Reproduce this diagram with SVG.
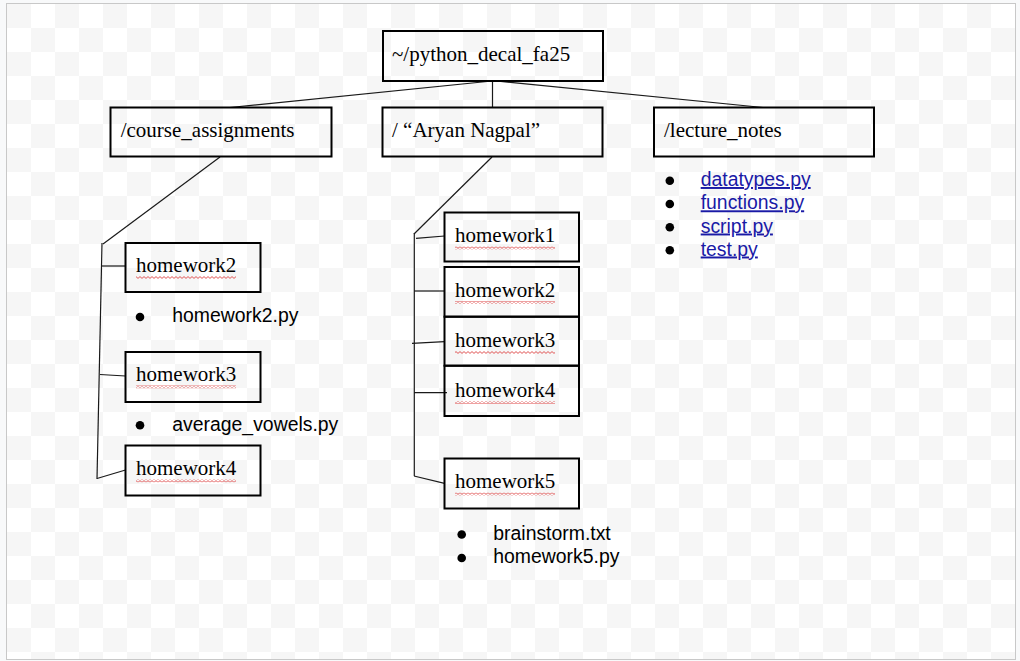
<svg xmlns="http://www.w3.org/2000/svg" width="1020" height="661" viewBox="0 0 1020 661">
<style>
.box{fill:none;stroke:#000;stroke-width:2}
.lbl{font-family:"Liberation Serif","Times New Roman",serif;font-size:21px;fill:#000}
.item{font-family:"Liberation Sans",Arial,sans-serif;font-size:19.4px;fill:#000}
.link{font-family:"Liberation Sans",Arial,sans-serif;font-size:19.4px;fill:#1a1aa6;text-decoration:underline}
.con line{stroke:#1a1a1a;stroke-width:1.2;fill:none}
.bul{fill:#000}
.sq{fill:url(#squig)}
</style>
<defs>
<pattern id="checker" patternUnits="userSpaceOnUse" x="7" y="4" width="48" height="48">
<rect x="0" y="0" width="48" height="48" fill="#ffffff"/>
<rect x="0" y="0" width="24" height="24" fill="#f6f6f6"/>
<rect x="24" y="24" width="24" height="24" fill="#f6f6f6"/>
</pattern>
<pattern id="squig" patternUnits="userSpaceOnUse" x="0" y="0" width="4" height="3">
<path d="M0,0.6 L2,2.4 L4,0.6" fill="none" stroke="#e05555" stroke-width="1"/>
</pattern>
</defs>
<rect x="0" y="0" width="1020" height="661" fill="#f8f9fa"/>
<rect x="6.5" y="3.5" width="1009" height="656" fill="url(#checker)" stroke="#c8c8c8" stroke-width="1"/>

<g id="connectors" class="con">
<line x1="492" y1="81" x2="230" y2="107.5"/>
<line x1="492.5" y1="81" x2="492.5" y2="107.5"/>
<line x1="496" y1="81" x2="763" y2="107.5"/>
<line x1="220" y1="157" x2="103" y2="244"/>
<line x1="102" y1="243" x2="97" y2="479"/>
<line x1="101" y1="266" x2="125.5" y2="266"/>
<line x1="100" y1="374.5" x2="125.5" y2="376"/>
<line x1="97" y1="478.5" x2="125.5" y2="470"/>
<line x1="492" y1="157" x2="414" y2="234"/>
<line x1="414.3" y1="233" x2="414.3" y2="476"/>
<line x1="416" y1="238.3" x2="444.5" y2="236"/>
<line x1="414" y1="291" x2="444.5" y2="291"/>
<line x1="412" y1="343.3" x2="444.5" y2="341.7"/>
<line x1="414" y1="392.7" x2="447" y2="392.7"/>
<line x1="414" y1="476" x2="444.5" y2="483.3"/>
</g>

<g id="root">
<rect class="box" x="383" y="31" width="220" height="50"/>
<text class="lbl" x="392" y="60.7">~/python_decal_fa25</text>
</g>

<g id="course_assignments">
<rect class="box" x="110.5" y="107.5" width="221" height="49"/>
<text class="lbl" x="120.7" y="136.7">/course_assignments</text>
</g>

<g id="aryan_nagpal">
<rect class="box" x="382.5" y="107.5" width="220" height="49"/>
<text class="lbl" x="392" y="136.7">/ “Aryan Nagpal”</text>
</g>

<g id="lecture_notes">
<rect class="box" x="654" y="107.5" width="220" height="49"/>
<text class="lbl" x="664" y="136.7">/lecture_notes</text>
<circle class="bul" cx="669.8" cy="180.7" r="4.3"/>
<text class="link" x="700.7" y="186">datatypes.py</text>
<circle class="bul" cx="669.8" cy="204" r="4.3"/>
<text class="link" x="700.7" y="209.3">functions.py</text>
<circle class="bul" cx="669.8" cy="227.2" r="4.3"/>
<text class="link" x="700.7" y="232.5">script.py</text>
<circle class="bul" cx="669.8" cy="250.2" r="4.3"/>
<text class="link" x="700.7" y="255.5">test.py</text>
</g>

<g id="ca_homework2">
<rect class="box" x="125.5" y="243" width="135" height="49"/>
<text class="lbl" x="136" y="271.7">homework2</text>
<rect class="sq" x="136" y="276" width="100" height="3"/>
<circle class="bul" cx="140" cy="317" r="4.3"/>
<text class="item" x="172.3" y="322.3">homework2.py</text>
</g>

<g id="ca_homework3">
<rect class="box" x="125.5" y="352" width="135" height="50"/>
<text class="lbl" x="136" y="381">homework3</text>
<rect class="sq" x="136" y="385.3" width="100" height="3"/>
<circle class="bul" cx="140" cy="425.3" r="4.3"/>
<text class="item" x="172.3" y="431">average_vowels.py</text>
</g>

<g id="ca_homework4">
<rect class="box" x="125.5" y="445.5" width="135" height="50"/>
<text class="lbl" x="136" y="475">homework4</text>
<rect class="sq" x="136" y="479.3" width="100" height="3"/>
</g>

<g id="an_homework1">
<rect class="box" x="444.5" y="212.5" width="134.5" height="49"/>
<text class="lbl" x="455" y="242.3">homework1</text>
<rect class="sq" x="455" y="246.5" width="100" height="3"/>
</g>

<g id="an_homework2">
<rect class="box" x="444.5" y="267" width="134.5" height="49.7"/>
<text class="lbl" x="455" y="296.7">homework2</text>
<rect class="sq" x="455" y="301" width="100" height="3"/>
</g>

<g id="an_homework3">
<rect class="box" x="444.5" y="316.7" width="134.5" height="49"/>
<text class="lbl" x="455" y="346.7">homework3</text>
<rect class="sq" x="455" y="351" width="100" height="3"/>
</g>

<g id="an_homework4">
<rect class="box" x="444.5" y="365.7" width="134.5" height="50.3"/>
<text class="lbl" x="455" y="396.7">homework4</text>
<rect class="sq" x="455" y="401" width="100" height="3"/>
</g>

<g id="an_homework5">
<rect class="box" x="444.5" y="458.5" width="134.5" height="50"/>
<text class="lbl" x="455" y="488.3">homework5</text>
<rect class="sq" x="455" y="492.6" width="100" height="3"/>
<circle class="bul" cx="461.7" cy="534.5" r="4.3"/>
<text class="item" x="493.3" y="540">brainstorm.txt</text>
<circle class="bul" cx="461.7" cy="558" r="4.3"/>
<text class="item" x="493.3" y="563.3">homework5.py</text>
</g>
</svg>
